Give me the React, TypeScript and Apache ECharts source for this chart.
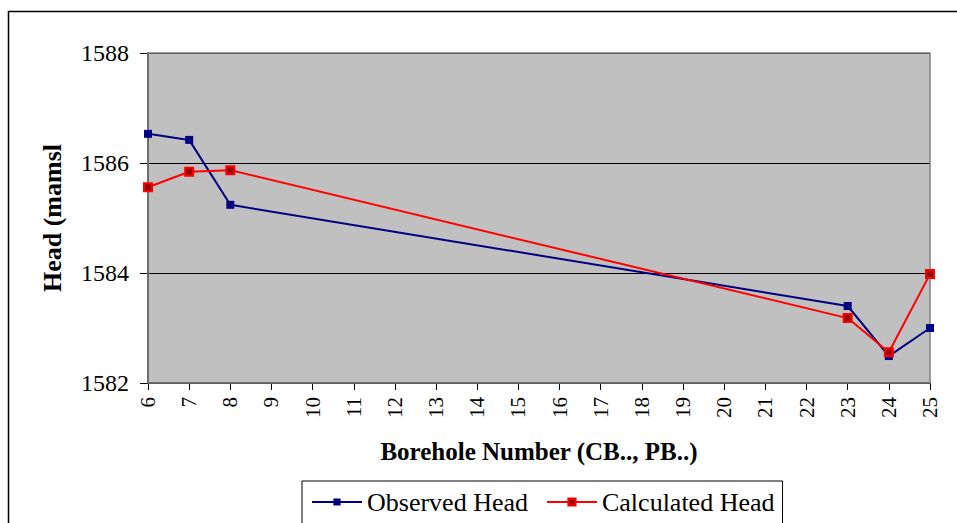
import React, { useEffect, useRef } from "react";
import * as echarts from "echarts";

const boreholes = ["6","7","8","9","10","11","12","13","14","15","16","17","18","19","20","21","22","23","24","25"];
const observedHead = [1586.53, 1586.42, 1585.24, null, null, null, null, null, null, null, null, null, null, null, null, null, null, 1583.4, 1582.49, 1583.0];
const calculatedHead = [1585.56, 1585.84, 1585.87, null, null, null, null, null, null, null, null, null, null, null, null, null, null, 1583.18, 1582.56, 1583.98];
const yTicks = { min: 1582, max: 1588, interval: 2 };

const FONT = "'Liberation Serif', 'Times New Roman', serif";

export default function App() {
  const ref = useRef<HTMLDivElement>(null);
  useEffect(() => {
    if (!ref.current) return;
    const chart = echarts.init(ref.current, null, { renderer: "svg" });
    chart.setOption({
      animation: false,
      backgroundColor: "#ffffff",
      textStyle: { fontFamily: FONT, color: "#000" },
      graphic: [
        {
          type: "rect",
          shape: { x: 8.5, y: 11.5, width: 1000, height: 600 },
          style: { fill: "none", stroke: "#000", lineWidth: 1.5 },
          silent: true,
        },
        {
          type: "rect",
          shape: { x: 148, y: 53, width: 782, height: 330 },
          style: { fill: "none", stroke: "#808080", lineWidth: 1.5 },
          silent: true,
          z: 1,
        },
      ],
      grid: {
        left: 148,
        top: 53,
        right: 27,
        bottom: 140,
        show: true,
        backgroundColor: "#C0C0C0",
        borderWidth: 0,
      },
      legend: {
        left: 302,
        top: 481,
        orient: "horizontal",
        borderColor: "#000",
        borderWidth: 1,
        padding: [8, 8, 40, 9],
        itemWidth: 50,
        itemHeight: 9,
        itemGap: 18,
        textStyle: { fontFamily: FONT, fontSize: 26, color: "#000" },
        data: ["Observed Head", "Calculated Head"],
      },
      xAxis: {
        type: "category",
        data: boreholes,
        boundaryGap: false,
        name: "Borehole Number (CB.., PB..)",
        nameLocation: "middle",
        nameGap: 56,
        nameTextStyle: { fontFamily: FONT, fontSize: 25, fontWeight: "bold", color: "#000" },
        axisLine: { show: true, lineStyle: { color: "#000", width: 1.5 } },
        axisTick: { show: true, alignWithLabel: true, length: 7, lineStyle: { color: "#000", width: 1 } },
        axisLabel: { rotate: 90, fontSize: 21, fontFamily: FONT, color: "#000", margin: 14, interval: 0 },
        splitLine: { show: false },
      },
      yAxis: {
        type: "value",
        min: yTicks.min,
        max: yTicks.max,
        interval: yTicks.interval,
        name: "Head (mamsl",
        nameLocation: "middle",
        nameGap: 83,
        nameTextStyle: { fontFamily: FONT, fontSize: 26, fontWeight: "bold", color: "#000" },
        axisLine: { show: true, lineStyle: { color: "#000", width: 1.5 } },
        axisTick: { show: true, length: 8, lineStyle: { color: "#000", width: 1 } },
        axisLabel: { fontSize: 24, fontFamily: FONT, color: "#000", margin: 19, formatter: (v: number) => String(v) },
        splitLine: { show: true, lineStyle: { color: "#000", width: 1 } },
      },
      series: [
        {
          name: "Observed Head",
          type: "line",
          data: observedHead,
          connectNulls: true,
          symbol: "rect",
          symbolSize: 8,
          lineStyle: { color: "#000080", width: 2 },
          itemStyle: { color: "#000080" },
          z: 3,
        },
        {
          name: "Calculated Head",
          type: "line",
          data: calculatedHead,
          connectNulls: true,
          symbol: "rect",
          symbolSize: 8,
          lineStyle: { color: "#FF0000", width: 2 },
          itemStyle: { color: "#990000", borderColor: "#FF0000", borderWidth: 2 },
          z: 4,
        },
      ],
    });
    return () => chart.dispose();
  }, []);
  return <div ref={ref} style={{ position: "absolute", left: 0, top: 0, width: 957, height: 523 }} />;
}
